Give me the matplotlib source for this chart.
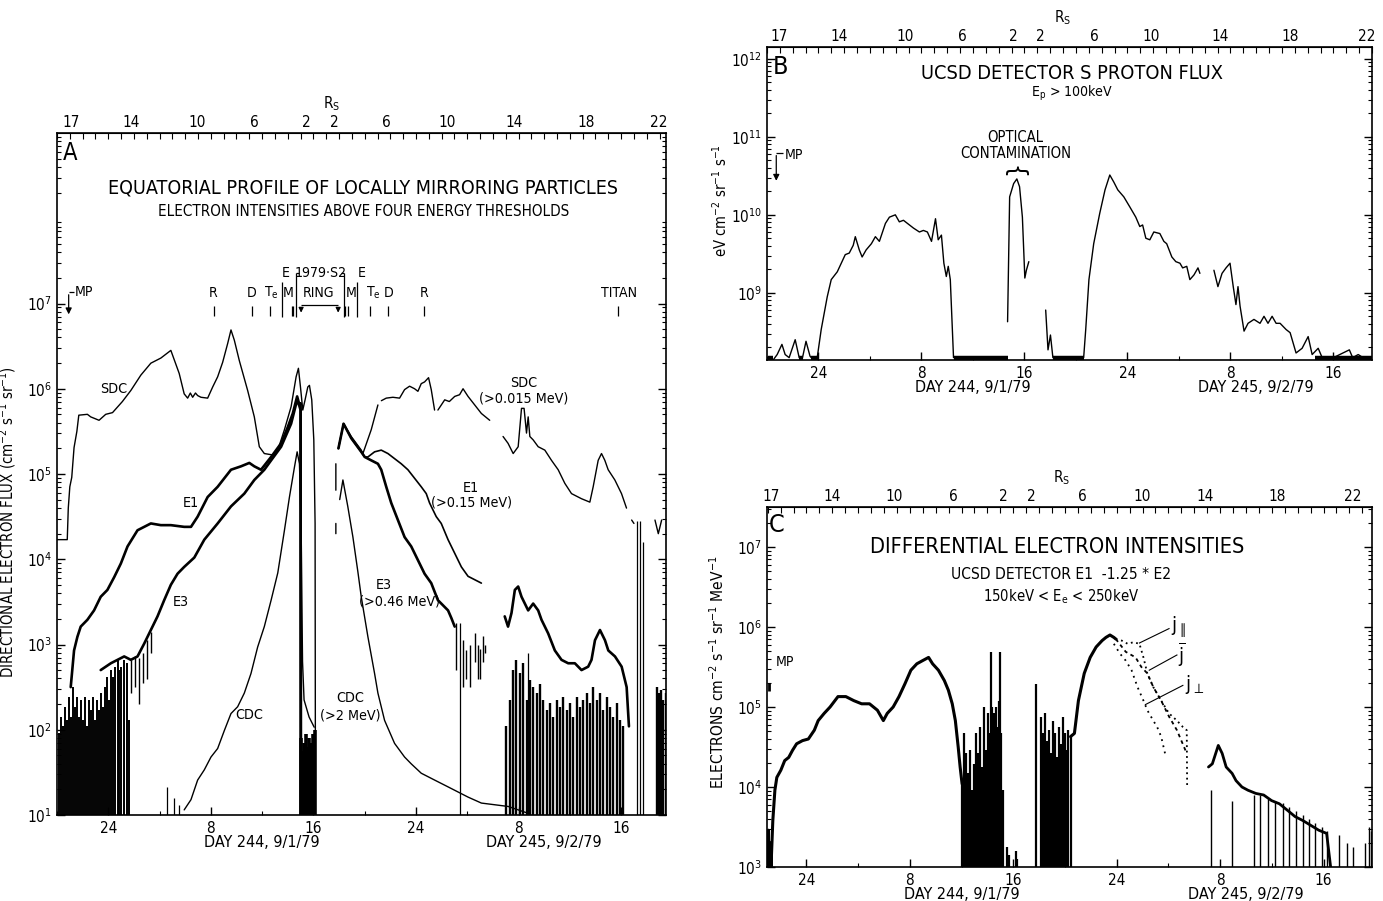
import numpy as np
import matplotlib
matplotlib.use("Agg")
import matplotlib.pyplot as plt
from matplotlib import font_manager
from matplotlib.ticker import LogLocator, NullFormatter, MultipleLocator

# ---- data (time in hours from 00:00 day 244, values as log10 of flux) ----
DAY_TICKS = [0, 8, 16, 24, 32, 40]
DAY_LABELS = ["24", "8", "16", "24", "8", "16"]
RS_LABELS = ["17", "14", "10", "6", "2", "2", "6", "10", "14", "18", "22"]
RS_POS_A = [-2.93, 1.76, 6.91, 11.37, 15.43, 17.62, 21.68, 26.45, 31.68, 37.3, 42.9]
RS_POS_B = [-3.05, 1.64, 6.72, 11.17, 15.16, 17.27, 21.41, 25.86, 31.17, 36.64, 42.58]
RS_POS_C = [-2.75, 1.99, 6.81, 11.4, 15.23, 17.37, 21.35, 25.94, 30.84, 36.42, 42.24]

# panel A
sdc_l_t = [-4.0, -3.2, -3.12, -3.0, -2.85, -2.67, -2.45, -2.3, -1.63, -1.37, -0.72, -0.2, 0.33, 1.1,
           1.76, 2.54, 3.32, 4.1, 4.88, 5.53, 5.92, 6.19, 6.4, 6.58, 6.8, 6.97, 7.23, 7.75, 8.14, 8.53,
           8.92, 9.31, 9.57, 9.83, 10.22, 10.87, 11.39, 11.78, 12.17, 12.96, 13.22, 13.74, 14.26,
           14.65, 14.83, 14.99, 15.17, 15.35, 15.56, 15.69, 15.87, 16.03, 16.13, 16.15]
sdc_l_v = [4.23, 4.23, 4.6, 4.85, 4.96, 5.31, 5.5, 5.69, 5.7, 5.67, 5.63, 5.7, 5.72, 5.85,
           5.98, 6.16, 6.30, 6.36, 6.45, 6.18, 5.94, 5.89, 5.95, 5.90, 5.95, 5.92, 5.9, 5.89, 6.02, 6.14,
           6.31, 6.53, 6.69, 6.57, 6.33, 5.98, 5.67, 5.32, 5.24, 5.22, 5.28, 5.52, 5.79,
           6.14, 6.24, 6.02, 5.75, 5.87, 6.02, 6.04, 5.87, 5.40, 4.42, 2.0]
sdc_r_t = [17.95, 18.35, 18.95, 19.73, 19.86, 20.51, 21.03, np.nan, 21.3, 21.68, 22.2, 22.72, 23.11,
           23.5, 23.89, 24.15, 24.41, 24.67, 24.98, 25.19, 25.45, np.nan, 25.71, 26.24, 26.6, 27.02,
           27.4, 27.67, 28.06, 28.58, 29.1, 29.75, np.nan, 30.79, 31.18, 31.58, 31.97, 32.23, 32.43,
           32.62, 32.75, 32.88, 33.14, 33.53, 34.05, 34.57, 35.09, 35.61, 36.13, 36.91, 37.56, 37.82,
           38.21, 38.47, 38.73, 38.99, 39.51, 40.03, 40.42]
sdc_r_v = [5.3, 5.59, 5.44, 5.28, 5.24, 5.52, 5.81, np.nan, 5.86, 5.89, 5.90, 5.89, 5.99,
           6.03, 6.0, 5.97, 6.06, 6.08, 6.13, 5.99, 5.75, np.nan, 5.75, 5.87, 5.85, 5.91,
           5.93, 6.0, 5.91, 5.81, 5.71, 5.63, np.nan, 5.44, 5.36, 5.24, 5.32, 5.77, 5.77,
           5.48, 5.67, 5.44, 5.40, 5.32, 5.28, 5.16, 5.05, 4.89, 4.77, 4.71, 4.67, 4.85,
           5.16, 5.24, 5.16, 5.05, 4.93, 4.77, 4.6]
sdc_end_t = [40.82, 41.0, np.nan, 42.64, 42.9, 43.16]
sdc_end_v = [4.46, 4.42, np.nan, 4.46, 4.3, 4.46]

e1_l_t = [-2.93, -2.67, -2.41, -2.15, -1.63, -1.11, -0.59, -0.07, 0.46, 0.98, 1.5, 2.28, 3.32, 4.1,
          4.88, 5.92, 6.45, 6.97, 7.75, 8.53, 9.57, 10.35, 11.0, 11.39, 11.91, 12.7, 13.48, 14.0,
          14.39, 14.73, 14.91, 15.0, 15.02]
e1_l_v = [2.5, 2.93, 3.09, 3.21, 3.29, 3.40, 3.56, 3.64, 3.79, 3.95, 4.15, 4.34, 4.42, 4.40,
          4.40, 4.38, 4.38, 4.50, 4.73, 4.85, 5.05, 5.09, 5.13, 5.09, 5.05, 5.2, 5.36, 5.55,
          5.71, 5.91, 5.81, 5.83, 1.0]
e1_r_t = [17.95, 18.35, 18.95, 19.73, 20.0, 20.25, 20.77, 21.29, 21.81, 22.33, 22.85, 23.37, 23.89,
          24.41, 24.8, 25.06, 25.58, 25.97, 26.5, 27.02, 27.54, 28.06, 28.84, 29.1]
e1_r_v = [5.3, 5.59, 5.42, 5.26, 5.2, 5.2, 5.26, 5.28, 5.24, 5.18, 5.12, 5.05, 4.95,
          4.85, 4.77, 4.66, 4.5, 4.42, 4.23, 4.07, 3.91, 3.8, 3.74, 3.72]
e3_l_t = [-0.59, 0.2, 0.72, 1.24, 1.76, 2.28, 2.8, 3.32, 3.84, 4.36, 4.88, 5.4, 5.92, 6.71, 7.49,
          8.53, 9.57, 10.61, 11.39, 12.17, 12.7, 13.48, 14.26, 14.73, 14.9, 15.0, 15.02]
e3_l_v = [2.70, 2.78, 2.82, 2.86, 2.82, 2.86, 3.01, 3.17, 3.33, 3.52, 3.70, 3.83, 3.91, 4.02, 4.23,
          4.42, 4.62, 4.77, 4.93, 5.05, 5.16, 5.32, 5.59, 5.87, 5.8, 5.75, 1.0]
e3_r_t = [17.95, 18.35, 18.95, 19.73, 20.0, 20.51, 21.03, 21.29, 21.68, 22.07, 22.59, 23.11, 23.63,
          24.15, 24.67, 25.19, 25.71, 26.5, 26.76, 27.02]
e3_r_v = [5.3, 5.59, 5.42, 5.26, 5.2, 5.16, 5.12, 5.05, 4.85, 4.66, 4.46, 4.26, 4.15,
          3.99, 3.83, 3.72, 3.52, 3.40, 3.31, 3.21]
e_245_t = [30.92, 31.18, 31.45, 31.71, 31.97, 32.23, 32.49, 32.75, 33.14, 33.53, 33.79, 34.31, 34.83,
           35.35, 35.87, 36.39, 36.91, 37.43, 37.69, 37.96, 38.35, 38.74, 39.0, 39.52, 40.04, 40.43, 40.61]
e_245_v = [3.33, 3.21, 3.37, 3.64, 3.68, 3.56, 3.48, 3.40, 3.48, 3.40, 3.29, 3.13, 2.93,
           2.82, 2.78, 2.78, 2.70, 2.74, 2.82, 3.05, 3.17, 3.05, 2.93, 2.86, 2.74, 2.50, 2.04]

cdc_l_t = [5.92, 6.45, 6.97, 7.49, 8.01, 8.53, 9.05, 9.57, 10.09, 10.61, 11.13, 11.65, 12.17, 12.7,
           13.22, 13.74, 14.13, 14.52, 14.73, 14.91, 15.04, 15.1, 15.15, 15.27, 15.66, 16.06]
cdc_l_v = [1.06, 1.18, 1.41, 1.53, 1.68, 1.78, 1.99, 2.19, 2.27, 2.43, 2.66, 2.97, 3.21, 3.52,
           3.84, 4.34, 4.73, 5.08, 5.26, 5.12, 4.42, 3.5, 2.8, 2.35, 2.15, 2.03]
cdc_r_t = [17.75, 17.75, np.nan, 17.75, 17.75, np.nan, 18.05, 18.3, 18.68, 19.08, 19.47, 19.73,
           20.25, 20.77, 21.03, 21.55, 22.33, 23.11, 23.63, 24.41, 25.45, 26.5, 27.28, 28.06,
           29.1, 31.2, 32.75]
cdc_r_v = [5.12, 4.81, np.nan, 4.42, 4.30, np.nan, 4.7, 4.93, 4.62, 4.26, 3.85, 3.56,
           3.09, 2.66, 2.43, 2.11, 1.84, 1.68, 1.60, 1.49, 1.41, 1.33, 1.27, 1.21,
           1.14, 1.10, 1.02]

noise_l_t = [-3.87, -3.71, -3.55, -3.4, -3.24, -3.09, -2.93, -2.77, -2.62, -2.46, -2.30, -2.15,
             -1.99, -1.84, -1.68, -1.52, -1.37, -1.21, -1.05, -0.90, -0.74, -0.59, -0.43, -0.27,
             -0.12, 0.04, 0.2, 0.35, 0.51, 0.72, 0.87, 1.03, 1.24, 1.45, 1.6]
noise_l_v = [1.96, 2.15, 2.04, 2.27, 2.11, 2.39, 2.15, 2.50, 2.27, 2.39, 2.15, 2.35,
             2.11, 2.39, 2.04, 2.35, 2.23, 2.39, 2.11, 2.35, 2.23, 2.43, 2.27, 2.50,
             2.62, 2.35, 2.70, 2.62, 2.74, 2.82, 2.70, 2.74, 2.82, 2.78, 2.11]
dips_t = [1.76, 2.1, 2.4, 2.7, 3.0, 3.3]
dips_hi = [2.82, 2.86, 2.84, 2.9, 3.05, 3.15]
dips_lo = [2.43, 2.5, 2.3, 2.55, 2.6, 2.9]
ring_t = [15.05, 15.15, 15.25, 15.35, 15.45, 15.55, 15.65, 15.75, 15.85, 15.95, 16.05, 16.15]
ring_v = [1.9, 1.75, 1.85, 1.7, 1.95, 1.8, 1.9, 1.75, 1.85, 1.95, 1.9, 2.0]
noise_r_t = [31.05, 31.3, 31.57, 31.83, 32.09, 32.35, 32.62, 32.88, 33.14, 33.40, 33.66, 33.92,
             34.18, 34.44, 34.70, 34.96, 35.22, 35.48, 35.74, 36.0, 36.26, 36.52, 36.78, 37.04,
             37.3, 37.57, 37.83, 38.09, 38.35, 38.6, 38.87, 39.13, 39.39, 39.65, 39.91, 40.17,
             42.78, 42.95, 43.11, 43.29, 43.47]
noise_r_v = [2.04, 2.35, 2.70, 2.82, 2.66, 2.78, 2.35, 2.58, 2.50, 2.43, 2.54, 2.35,
             2.23, 2.31, 2.15, 2.35, 2.27, 2.39, 2.23, 2.31, 2.15, 2.39, 2.27, 2.35,
             2.43, 2.31, 2.50, 2.35, 2.43, 2.23, 2.39, 2.27, 2.15, 2.31, 2.11, 2.04,
             2.50, 2.43, 2.47, 2.35, 2.43]
tail_t = [27.15, 27.67, 27.93, 28.19, 28.58, 28.84, 28.97, 29.23, 29.41]
tail_hi = [3.25, 3.05, 2.93, 3.0, 3.13, 3.0, 2.95, 3.1, 3.0]
tail_lo = [2.7, 2.5, 2.6, 2.5, 2.8, 2.6, 2.6, 2.8, 2.9]
long_t = [27.41, 32.75, 41.25, 41.45, 41.7]
long_v = [3.25, 2.9, 4.45, 4.45, 4.2]
small_t = [4.6, 5.1, 5.5]
small_v = [1.33, 1.2, 1.12]

# panel B
b1_t = [-3.9, -3.52, -3.21, -2.84, -2.59, -2.28, -1.81, -1.5, -1.28, -0.97, -0.66, -0.41, -0.1,
        0.21, 0.68, 0.99, 1.46, 1.77, 2.08, 2.39, 2.70, 2.86, 3.17, 3.39, 3.70, 4.11, 4.42, 4.73,
        5.2, 5.51, 5.97, 6.28, 6.6, 6.91, 7.38, 7.84, 8.15, 8.46, 8.78, 9.09, 9.3, 9.55, 9.74,
        9.93, 10.08, 10.24, 10.49]
b1_v = [8.17, 8.14, 8.21, 8.34, 8.21, 8.17, 8.40, 8.17, 8.14, 8.38, 8.19, 8.14, 8.17,
        8.53, 8.95, 9.17, 9.27, 9.38, 9.49, 9.51, 9.61, 9.72, 9.55, 9.46, 9.55, 9.63, 9.72, 9.66,
        9.89, 9.97, 10.0, 9.91, 9.93, 9.89, 9.83, 9.78, 9.80, 9.78, 9.66, 9.95, 9.68, 9.74, 9.38,
        9.21, 9.34, 9.17, 8.17]
b2_t = [14.69, 14.85, 15.16, 15.41, 15.62, 15.84, 16.03, 16.15, 16.34]
b2_v = [8.63, 10.23, 10.40, 10.46, 10.36, 9.97, 9.19, 9.29, 9.40]
b3_t = [17.65, 17.83, 18.02, 18.21]
b3_v = [8.78, 8.27, 8.46, 8.17]
b4_t = [20.6, 20.76, 21.01, 21.38, 21.85, 22.26, 22.63, 22.94, 23.25, 23.72, 24.19, 24.65, 24.96,
        25.18, 25.43, 25.74, 26.05, 26.52, 26.83, 27.05, 27.45, 27.76, 28.08, 28.29, 28.61, 28.85,
        29.17, 29.48, 29.63]
b4_v = [8.17, 8.53, 9.17, 9.63, 10.02, 10.32, 10.51, 10.42, 10.32, 10.23, 10.10, 9.97, 9.85,
        9.87, 9.70, 9.68, 9.78, 9.76, 9.66, 9.63, 9.46, 9.40, 9.38, 9.32, 9.34, 9.17,
        9.23, 9.32, 9.25]
b5_t = [30.72, 31.03, 31.35, 31.66, 31.97, 32.22, 32.43, 32.59, 32.75, 33.06, 33.37, 33.83, 34.3,
        34.61, 34.92, 35.24, 35.55, 35.86, 36.33, 36.64, 37.1, 37.57, 38.04, 38.35, 38.82, 39.13,
        40.0, 41.24, 41.5, 41.93, 42.3, 43.0]
b5_v = [9.29, 9.08, 9.25, 9.32, 9.38, 9.08, 8.85, 9.08, 8.83, 8.51, 8.61, 8.66, 8.61,
        8.70, 8.61, 8.70, 8.61, 8.61, 8.53, 8.49, 8.23, 8.29, 8.44, 8.21, 8.29, 8.17,
        8.17, 8.27, 8.17, 8.21, 8.17, 8.17]
b_base_from = [-3.95, -1.55, -0.6, 10.49, 18.21, 38.6]
b_base_to = [-3.5, -1.2, -0.05, 14.69, 20.6, 43.0]
B_BASE = 8.17

# panel C
c1_t = [-3.05, -2.95, -2.9, -2.8, -2.74, -2.6, -2.44, -2.29, -1.98, -1.68, -1.37, -1.07, -0.76,
        -0.3, 0.15, 0.61, 0.91, 1.37, 1.83, 2.44, 3.05, 3.66, 4.27, 4.88, 5.49, 5.95, 6.25, 6.71,
        7.16, 7.62, 8.08, 8.54, 8.99, 9.45, 9.76, 10.21, 10.67, 10.98, 11.28, 11.52, 11.74,
        11.89, 12.04]
c1_v = [3.0, 3.46, 3.0, 3.3, 3.0, 3.58, 3.96, 4.12, 4.21, 4.33, 4.37, 4.46, 4.54,
        4.58, 4.60, 4.71, 4.83, 4.92, 5.0, 5.13, 5.13, 5.08, 5.04, 5.04, 4.96, 4.83, 4.92, 5.0,
        5.13, 5.29, 5.46, 5.54, 5.58, 5.62, 5.54, 5.46, 5.33, 5.21, 5.04, 4.83, 4.5,
        4.25, 4.04]
c2_t = [20.43, 20.73, 21.04, 21.49, 21.95, 22.41, 22.87, 23.17, 23.48, 23.78, 23.93]
c2_v = [4.63, 4.67, 5.08, 5.42, 5.62, 5.75, 5.83, 5.87, 5.9, 5.87, 5.85]
jpar_t = [23.93, 24.39, 24.85, 25.3, 25.76, 26.07, 26.37, 26.83, 27.44, 28.05, 28.66, 29.12, 29.42, 29.45]
jpar_v = [5.85, 5.83, 5.79, 5.81, 5.79, 5.62, 5.42, 5.25, 5.08, 4.92, 4.83, 4.75, 4.71, 4.0]
jbar_t = [23.93, 24.7, 25.46, 25.91, 26.37, 26.83, 27.44, 28.05, 28.66, 29.42]
jbar_v = [5.85, 5.69, 5.62, 5.5, 5.42, 5.25, 5.08, 4.88, 4.71, 4.42]
jper_t = [23.78, 24.24, 24.7, 25.15, 25.61, 26.07, 26.37, 26.83, 27.13, 27.44, 27.74]
jper_v = [5.79, 5.67, 5.58, 5.46, 5.25, 5.08, 4.96, 4.83, 4.75, 4.63, 4.42]
c3_t = [31.1, 31.4, 31.86, 32.16, 32.47, 32.93, 33.23, 33.69, 34.15, 34.76, 35.37, 35.98, 36.59,
        37.2, 37.8, 38.41, 39.02, 39.63, 40.24, 40.55]
c3_v = [4.25, 4.29, 4.52, 4.42, 4.25, 4.17, 4.08, 4.0, 3.96, 3.92, 3.9, 3.83, 3.79,
        3.71, 3.63, 3.58, 3.52, 3.46, 3.42, 3.0]
cs_t = [12.04, 12.2, 12.35, 12.5, 12.65, 12.8, 12.96, 13.11, 13.26, 13.41, 13.57, 13.72, 13.87,
        14.02, 14.18, 14.27, 14.39, 14.51, 14.63, 14.76, 14.88, 14.94, 15.06, 15.18,
        15.55, 15.7, 16.2, 16.3,
        17.77, 18.14, 18.29, 18.45, 18.6, 18.75, 18.9, 19.05, 19.21, 19.36, 19.51, 19.66, 19.82,
        19.97, 20.12, 20.27, 20.43]
cs_v = [4.04, 4.67, 4.42, 4.17, 4.46, 3.96, 4.29, 4.67, 4.42, 4.75, 4.25, 5.0, 4.46,
        4.92, 4.67, 5.69, 5.0, 4.92, 5.0, 4.75, 5.08, 5.69, 4.67, 3.96,
        3.25, 3.15, 3.2, 3.1,
        5.29, 4.88, 4.67, 4.92, 4.58, 4.71, 4.42, 4.83, 4.67, 4.37, 4.75, 4.54, 4.88,
        4.67, 4.46, 4.71, 4.63]
c245_t = [31.3, 32.9, 34.6, 35.12, 35.67, 36.28, 36.83, 37.35, 37.87, 38.41, 38.87, 39.33, 39.88,
          40.3, 41.2, 41.8, 42.3, 43.2, 43.5, 43.65]
c245_v = [3.96, 3.83, 3.9, 3.9, 3.85, 3.83, 3.8, 3.75, 3.7, 3.65, 3.6, 3.55, 3.5,
          3.45, 3.4, 3.3, 3.25, 3.3, 3.5, 3.45]

# ---- style ----
FONT = "DejaVu Sans"
cond = any(f.name == FONT and "condensed" in str(f.stretch) for f in font_manager.fontManager.ttflist)
S = 1.12 if cond else 1.0
plt.rcParams["font.family"] = [FONT]
if cond:
    plt.rcParams["font.stretch"] = "condensed"
plt.rcParams["mathtext.fontset"] = "custom"
plt.rcParams["mathtext.rm"] = FONT
plt.rcParams["mathtext.it"] = FONT
plt.rcParams["mathtext.sf"] = FONT
K = "black"


def lg(v):
    return 10.0 ** np.asarray(v, dtype=float)


def curve(ax, t, v, lw=1.0, **kw):
    line, = ax.plot(t, lg(v), color=K, lw=lw, solid_capstyle="round",
                    solid_joinstyle="round", **kw)
    return line


def spikes(ax, t, hi, lo, lw=1.0):
    ax.vlines(t, lg(lo), lg(hi), color=K, lw=lw)


def txt(ax, x, e, s, size, **kw):
    kw.setdefault("ha", "center")
    kw.setdefault("va", "center")
    ax.text(x, 10.0 ** e, s, fontsize=size * S, **kw)


def setup(ax, xlim, ylim, yexp, rs_pos, rs_hr):
    ax.set_yscale("log")
    ax.set_xlim(*xlim)
    ax.set_ylim(10.0 ** ylim[0], 10.0 ** ylim[1])
    ax.set_xticks(DAY_TICKS, DAY_LABELS)
    ax.xaxis.set_minor_locator(MultipleLocator(4))
    ax.set_yticks([10.0 ** e for e in yexp])
    ax.yaxis.set_minor_locator(LogLocator(base=10, subs=np.arange(2, 10), numticks=40))
    ax.yaxis.set_minor_formatter(NullFormatter())
    ax.tick_params(which="both", direction="in", right=True, top=False, labelsize=11)
    ax.tick_params(which="major", length=6, width=1)
    ax.tick_params(which="minor", length=3, width=0.8)
    ax.tick_params(axis="x", pad=4)
    for s in ax.spines.values():
        s.set_linewidth(1.2)
    top = ax.secondary_xaxis("top")
    top.set_xticks(rs_pos, RS_LABELS)
    top.xaxis.set_minor_locator(MultipleLocator(1))
    top.tick_params(which="both", direction="in", labelsize=11, pad=2)
    top.tick_params(which="major", length=0)
    top.tick_params(which="minor", length=4, width=0.8)
    ax.annotate(r"R$_\mathregular{S}$", xy=(rs_hr, 1), xycoords=ax.get_xaxis_transform(),
                xytext=(0, 21), textcoords="offset points", ha="center", va="center", fontsize=11)
    for h, lab in [(12.0, "DAY 244, 9/1/79"), (34.0, "DAY 245, 9/2/79")]:
        ax.annotate(lab, xy=(h, 0), xycoords=ax.get_xaxis_transform(),
                    xytext=(0, -19.5), textcoords="offset points", ha="center", va="center",
                    fontsize=10.3 * S)


fig = plt.figure(figsize=(13.83, 9.01), dpi=100)
W, H = 1383.0, 901.0
axA = fig.add_axes([57 / W, 1 - 815 / H, 609 / W, 682 / H])
axB = fig.add_axes([767 / W, 1 - 360 / H, 605 / W, 313 / H])
axC = fig.add_axes([767 / W, 1 - 867 / H, 605 / W, 360 / H])

# ---- panel A ----
ax = axA
setup(ax, (-4.0, 43.5), (1, 9), range(1, 8), RS_POS_A, 17.4)
spikes(ax, noise_l_t, noise_l_v, [1.0] * len(noise_l_t), lw=1.4)
spikes(ax, dips_t, dips_hi, dips_lo, lw=1.0)
spikes(ax, ring_t, ring_v, [1.0] * len(ring_t), lw=2.6)
spikes(ax, noise_r_t, noise_r_v, [1.0] * len(noise_r_t), lw=1.7)
spikes(ax, tail_t, tail_hi, tail_lo, lw=1.0)
spikes(ax, long_t, long_v, [1.0] * len(long_t), lw=0.9)
spikes(ax, small_t, small_v, [1.0] * len(small_t), lw=0.9)
curve(ax, sdc_l_t, sdc_l_v, lw=1.0)
curve(ax, sdc_r_t, sdc_r_v, lw=1.0)
curve(ax, sdc_end_t, sdc_end_v, lw=1.0)
curve(ax, e1_l_t, e1_l_v, lw=1.9)
curve(ax, e3_l_t, e3_l_v, lw=1.9)
curve(ax, e1_r_t, e1_r_v, lw=1.2)
curve(ax, e3_r_t, e3_r_v, lw=1.9)
curve(ax, e_245_t, e_245_v, lw=1.9)
curve(ax, cdc_l_t, cdc_l_v, lw=1.0)
curve(ax, cdc_r_t, cdc_r_v, lw=1.0)

ax.text(-3.55, 10 ** 8.77, "A", fontsize=17, ha="left", va="center")
txt(ax, 19.9, 8.355, "EQUATORIAL PROFILE OF LOCALLY MIRRORING PARTICLES", 12.6)
txt(ax, 19.9, 8.085, "ELECTRON INTENSITIES ABOVE FOUR ENERGY THRESHOLDS", 9.7)
ax.set_ylabel(r"DIRECTIONAL ELECTRON FLUX (cm$^{-2}$ s$^{-1}$ sr$^{-1}$)", fontsize=9.6 * S)
ax.yaxis.set_label_coords(-39 / 609, 0.43)

for h, e, s in [(0.4, 6.0, "SDC"), (6.45, 4.66, "E1"), (5.66, 3.5, "E3"), (11.0, 2.17, "CDC"),
                (32.4, 6.07, "SDC"), (32.4, 5.89, "(>0.015 MeV)"), (28.3, 4.84, "E1"),
                (28.3, 4.66, "(>0.15 MeV)"), (21.5, 3.70, "E3"), (22.7, 3.50, "(>0.46 MeV)"),
                (18.9, 2.37, "CDC"), (18.9, 2.17, "(>2 MeV)")]:
    txt(ax, h, e, s, 9.2)

# region markers
for h, s in [(8.16, "R"), (11.21, "D"), (12.7, r"T$_\mathregular{e}$"), (14.0, "M"),
             (16.37, "RING"), (18.95, "M"), (20.66, r"T$_\mathregular{e}$"), (21.84, "D"),
             (24.65, "R"), (39.8, "TITAN")]:
    txt(ax, h, 7.12, s, 9)
for h, s in [(13.8, "E"), (16.6, "1979·S2"), (19.8, "E")]:
    txt(ax, h, 7.36, s, 9)
ax.vlines([8.24, 11.21, 12.62, 14.31, 14.41, 18.49, 18.66, 20.43, 21.84, 24.65, 39.73],
          10 ** 6.85, 10 ** 6.97, color=K, lw=0.9)
ax.vlines([13.55, 19.4], 10 ** 6.84, 10 ** 7.25, color=K, lw=0.9)
ax.vlines([14.65, 18.4], 10 ** 6.84, 10 ** 7.36, color=K, lw=0.9)
ax.hlines([10 ** 7.36, 10 ** 7.36], [14.65, 18.15], [14.9, 18.4], color=K, lw=0.9)
ax.hlines(10 ** 6.98, 15.04, 17.93, color=K, lw=0.9)
for h in (15.04, 17.93):
    ax.annotate("", xy=(h, 10 ** 6.86), xytext=(h, 10 ** 6.985),
                arrowprops=dict(arrowstyle="-|>", color=K, lw=0.9, mutation_scale=7))
ax.hlines(10 ** 7.13, -3.09, -2.7, color=K, lw=0.9)
ax.annotate("", xy=(-3.09, 10 ** 6.84), xytext=(-3.09, 10 ** 7.135),
            arrowprops=dict(arrowstyle="-|>", color=K, lw=0.9, mutation_scale=9))
txt(ax, -2.6, 7.13, "MP", 9, ha="left")

# ---- panel B ----
ax = axB
setup(ax, (-4.0, 43.0), (8.14, 12.15), range(9, 13), RS_POS_B, 19.0)
curve(ax, b1_t, b1_v, lw=1.0)
curve(ax, b2_t, b2_v, lw=1.0)
curve(ax, b3_t, b3_v, lw=1.0)
curve(ax, b4_t, b4_v, lw=1.0)
curve(ax, b5_t, b5_v, lw=1.0)
ax.hlines([10 ** B_BASE] * len(b_base_from), b_base_from, b_base_to, color=K, lw=3.2)
ax.text(-3.55, 10 ** 11.89, "B", fontsize=18, ha="left", va="center")
txt(ax, 19.7, 11.81, "UCSD DETECTOR S PROTON FLUX", 12.8)
txt(ax, 19.7, 11.55, r"E$_\mathregular{p}$ > 100keV", 9)
txt(ax, 15.3, 10.99, "OPTICAL", 9.5)
txt(ax, 15.35, 10.78, "CONTAMINATION", 9.5)
ax.text(15.35, 10 ** 10.6, "}", fontsize=18, rotation=90, ha="center", va="center")
ax.hlines(10 ** 10.79, -3.28, -2.75, color=K, lw=0.9)
ax.annotate("", xy=(-3.28, 10 ** 10.4), xytext=(-3.28, 10 ** 10.795),
            arrowprops=dict(arrowstyle="-|>", color=K, lw=0.9, mutation_scale=9))
txt(ax, -2.6, 10.77, "MP", 9, ha="left")
ax.set_ylabel(r"eV cm$^{-2}$ sr$^{-1}$ s$^{-1}$", fontsize=9.5 * S)
ax.yaxis.set_label_coords(-37 / 605, 0.51)

# ---- panel C ----
ax = axC
setup(ax, (-3.05, 43.75), (3, 7.5), range(3, 8), RS_POS_C, 19.7)
spikes(ax, cs_t, cs_v, [3.0] * len(cs_t), lw=1.6)
spikes(ax, c245_t, c245_v, [3.0] * len(c245_t), lw=1.0)
curve(ax, c1_t, c1_v, lw=2.2)
curve(ax, c2_t, c2_v, lw=2.2)
curve(ax, c3_t, c3_v, lw=2.0)
curve(ax, jpar_t, jpar_v, lw=1.3, linestyle=(0, (1, 2)))
curve(ax, jbar_t, jbar_v, lw=1.3, linestyle=(0, (2, 2)))
curve(ax, jper_t, jper_v, lw=1.3, linestyle=(0, (1, 2.5)))
ax.text(-2.95, 10 ** 7.28, "C", fontsize=18, ha="left", va="center")
txt(ax, 19.4, 7.0, "DIFFERENTIAL ELECTRON INTENSITIES", 14)
txt(ax, 19.7, 6.66, "UCSD DETECTOR E1  -1.25 * E2", 10)
txt(ax, 19.7, 6.38, r"150keV < E$_\mathregular{e}$ < 250keV", 9.5)
txt(ax, -2.35, 5.56, "MP", 9, ha="left")
ax.vlines(-2.9, 10 ** 5.2, 10 ** 5.3, color=K, lw=2)
for (x0, y0, x1, y1), (hx, hy, s) in zip(
        [(28.05, 5.98, 25.76, 5.80), (28.66, 5.65, 26.52, 5.46), (29.12, 5.27, 26.22, 5.03)],
        [(28.2, 6.0, r"j$_{\parallel}$"), (28.75, 5.65, r"$\overline{\mathregular{j}}$"),
         (29.3, 5.28, r"j$_{\perp}$")]):
    ax.plot([x0, x1], [10 ** y0, 10 ** y1], color=K, lw=0.8)
    txt(ax, hx, hy, s, 13, ha="left")
ax.set_ylabel(r"ELECTRONS cm$^{-2}$ s$^{-1}$ sr$^{-1}$ MeV$^{-1}$", fontsize=10 * S)
ax.yaxis.set_label_coords(-40 / 605, 0.54)

fig.savefig("out.png", dpi=100)
